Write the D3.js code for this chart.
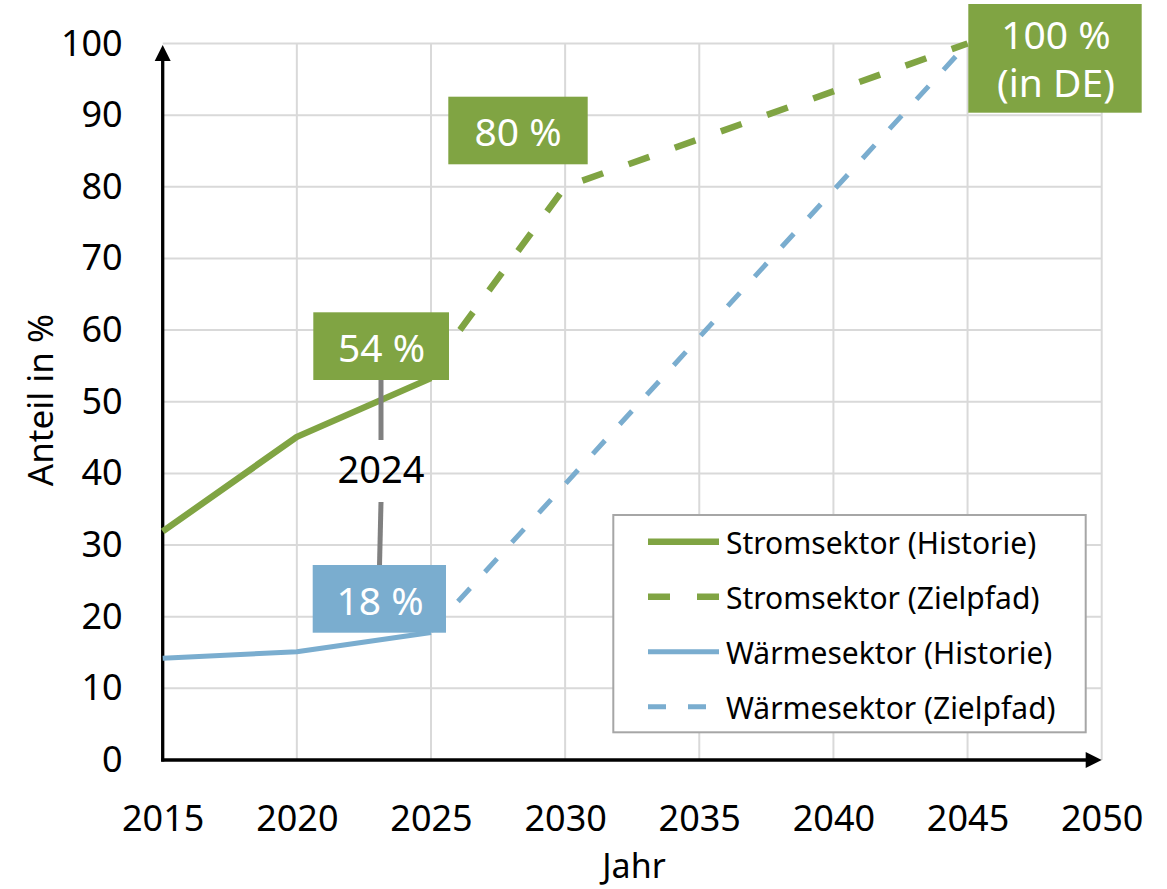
<!DOCTYPE html>
<html><head><meta charset="utf-8">
<script src="https://cdn.jsdelivr.net/npm/d3@7/dist/d3.min.js"></script>
<style>
html,body{margin:0;padding:0;background:#fff;}
svg{display:block;font-family:"Noto Sans","Open Sans",sans-serif;}
</style></head>
<body>
<svg id="chart" width="1167" height="889"></svg>
<script>
// ---- data ----
const xTicks = [2015, 2020, 2025, 2030, 2035, 2040, 2045, 2050];
const yTicks = [0, 10, 20, 30, 40, 50, 60, 70, 80, 90, 100];
const histYears = [2015, 2020, 2025];
const stromHistorie = [31.9, 45.1, 53.3];
const waermeHistorie = [14.2, 15.1, 17.8];
const stromZielYears = [2025, 2030, 2045];
const stromZielpfad = [54.5, 80, 100];
const waermeZielYears = [2025, 2045];
const waermeZielpfad = [18, 100];
const legendLabels = ["Stromsektor (Historie)", "Stromsektor (Zielpfad)", "Wärmesektor (Historie)", "Wärmesektor (Zielpfad)"];
const annotations = [
  {year: 2025, value: 54, lines: ["54 %"], kind: "strom"},
  {year: 2030, value: 80, lines: ["80 %"], kind: "strom"},
  {year: 2045, value: 100, lines: ["100 %", "(in DE)"], kind: "strom"},
  {year: 2025, value: 18, lines: ["18 %"], kind: "waerme"}
];
const markerLabel = "2024";
const xTitle = "Jahr";
const yTitle = "Anteil in %";

// ---- styles ----
const GREEN = "#80a443", BLUE = "#7aadcf", GRID = "#d9d9d9";
const svg = d3.select("#chart");
const x = d3.scaleLinear().domain([2015, 2050]).range([162.7, 1101.7]);
const y = d3.scaleLinear().domain([0, 100]).range([760, 43.5]);

// gridlines
const g = svg.append("g");
g.selectAll(".vg").data(xTicks.slice(1)).join("line")
  .attr("x1", d => x(d)).attr("x2", d => x(d)).attr("y1", y(100)).attr("y2", y(0))
  .attr("stroke", GRID).attr("stroke-width", 2);
g.selectAll(".hg").data(yTicks.slice(1)).join("line")
  .attr("x1", x(2015)).attr("x2", x(2050)).attr("y1", d => y(d)).attr("y2", d => y(d))
  .attr("stroke", GRID).attr("stroke-width", 2);

// axes labels
const yAxis = svg.append("g").attr("transform", `translate(${x(2015)},0)`)
  .call(d3.axisLeft(y).tickValues(yTicks).tickSize(0).tickPadding(40).tickFormat(d3.format("d")));
const xAxis = svg.append("g").attr("transform", `translate(0,${y(0)})`)
  .call(d3.axisBottom(x).tickValues(xTicks).tickSize(0).tickPadding(45).tickFormat(d3.format("d")));
[yAxis, xAxis].forEach(a => {
  a.select(".domain").remove();
  a.selectAll("text").attr("font-size", 36).attr("fill", "#000").attr("font-family", "'Noto Sans', sans-serif");
});

// axis lines with arrows
svg.append("line").attr("x1", x(2015)).attr("x2", x(2015)).attr("y1", y(0) + 1.5).attr("y2", y(100) + 14)
  .attr("stroke", "#000").attr("stroke-width", 3.3);
svg.append("path").attr("d", `M${x(2015)},${y(100) + 1.5} l-8,16 l16,0 z`).attr("fill", "#000");
svg.append("line").attr("x1", x(2015) - 1.5).attr("x2", x(2050) - 14).attr("y1", y(0)).attr("y2", y(0))
  .attr("stroke", "#000").attr("stroke-width", 3.3);
svg.append("path").attr("d", `M${x(2050)},${y(0)} l-16,-8 l0,16 z`).attr("fill", "#000");

// axis titles
svg.append("text").attr("x", 634).attr("y", 878).attr("text-anchor", "middle")
  .attr("font-size", 34).text(xTitle);
svg.append("text").attr("transform", "translate(53,400) rotate(-90)").attr("text-anchor", "middle")
  .attr("font-size", 35).text(yTitle);

// series lines
const line = d3.line().x(d => x(d[0])).y(d => y(d[1]));
const zip = (a, b) => a.map((v, i) => [v, b[i]]);
const series = [
  {pts: zip(histYears, stromHistorie), color: GREEN, w: 6.5, dash: null},
  {pts: zip(stromZielYears, stromZielpfad), color: GREEN, w: 6.5, dash: "22,27"},
  {pts: zip(histYears, waermeHistorie), color: BLUE, w: 5, dash: null},
  {pts: zip(waermeZielYears, waermeZielpfad), color: BLUE, w: 5, dash: "18,22"}
];
svg.selectAll(".series").data(series).join("path")
  .attr("d", d => line(d.pts)).attr("fill", "none")
  .attr("stroke", d => d.color).attr("stroke-width", d => d.w)
  .attr("stroke-dasharray", d => d.dash).attr("stroke-linejoin", "round");

// legend
const lg = svg.append("g");
lg.append("rect").attr("x", 613.3).attr("y", 515).attr("width", 472.4).attr("height", 217.3)
  .attr("fill", "#fff").attr("stroke", "#a6a6a6").attr("stroke-width", 2);
legendLabels.forEach((lab, i) => {
  const s = series[i], ry = 541.7 + i * 55;
  lg.append("line").attr("x1", 648).attr("x2", 719).attr("y1", ry).attr("y2", ry)
    .attr("stroke", s.color).attr("stroke-width", s.w).attr("stroke-dasharray", s.dash);
  lg.append("text").attr("x", 726).attr("y", ry + 12).attr("font-size", 30).text(lab);
});

// 2024 marker connector
const mx = 381;
svg.append("line").attr("x1", mx).attr("x2", mx).attr("y1", 380).attr("y2", 440)
  .attr("stroke", "#808080").attr("stroke-width", 5);
svg.append("line").attr("x1", mx).attr("x2", mx - 1.5).attr("y1", 502).attr("y2", 566)
  .attr("stroke", "#808080").attr("stroke-width", 5);
svg.append("text").attr("x", mx).attr("y", 483).attr("text-anchor", "middle")
  .attr("font-size", 38).attr("fill", "#000").text(markerLabel);

// annotation boxes
const boxes = [
  {x0: 313.3, y0: 312.3, x1: 449, y1: 380, cx: 381.5, base: [362]},
  {x0: 448.3, y0: 96.7, x1: 587.7, y1: 164.3, cx: 518, base: [145.5]},
  {x0: 968.3, y0: 4, x1: 1141.7, y1: 112.7, cx: 1056, base: [49, 97]},
  {x0: 312.7, y0: 565, x1: 446, y1: 632.7, cx: 380, base: [614.5]}
];
annotations.forEach((a, i) => {
  const b = boxes[i];
  svg.append("rect").attr("x", b.x0).attr("y", b.y0).attr("width", b.x1 - b.x0).attr("height", b.y1 - b.y0)
    .attr("fill", a.kind === "strom" ? GREEN : BLUE);
  a.lines.forEach((t, j) => {
    svg.append("text").attr("x", b.cx).attr("y", b.base[j]).attr("text-anchor", "middle")
      .attr("font-size", 39).attr("fill", "#fff").text(t);
  });
});
</script>
</body></html>
